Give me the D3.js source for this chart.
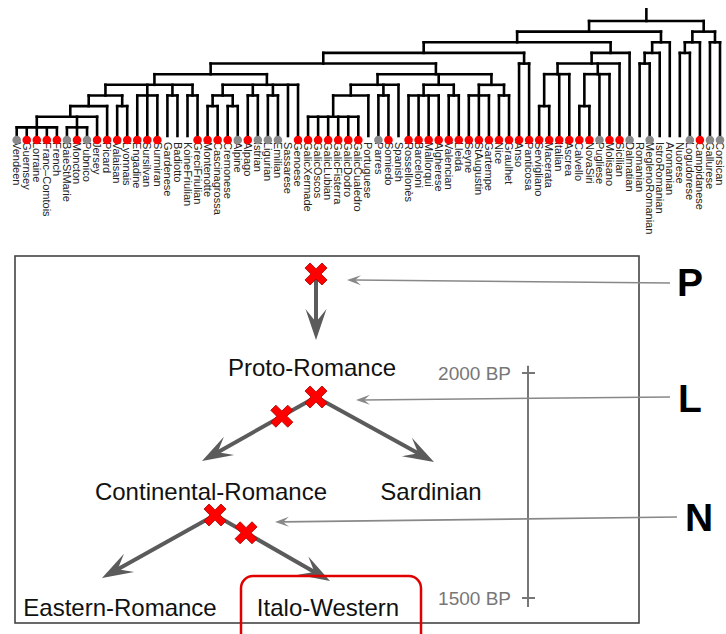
<!DOCTYPE html>
<html lang="en">
<head>
<meta charset="UTF-8">
<script src="https://cdn.jsdelivr.net/npm/d3@7"></script>
<style>
  body { margin: 0; background: #fff; }
  svg { display: block; }
  .branch { stroke: #000; stroke-width: 2.6px; fill: none; stroke-linecap: square; }
  .leaf-label { font: 11px "Liberation Sans", Arial, sans-serif; fill: #222; }
  .stage { font: 24px "Liberation Sans", Arial, sans-serif; fill: #111; text-anchor: middle; }
  .pointer { font: bold 39px "Liberation Sans", Arial, sans-serif; fill: #000; }
  .bp { font: 19px "Liberation Sans", Arial, sans-serif; fill: #777; text-anchor: end; }
</style>
</head>
<body>
<script>
const width = 726, height = 634;

/* Dendrogram: [level, ...children], a leaf is just its name */
const romanceTree =
[0,
  [1,
    [2,
      [3,
        [4,
          [5,
            [6,
              [7,
                [8,
                  [9,
                    [10, "Vendeen", "Guernsey", "Lorraine", "Franc\u2013Comtois", "French"],
                    [10, "BaieStMarie", "Moncton", "Pubnico"],
                    "Jersey"],
                  "Picard"],
                [8, "Valaisan", "Lyonnais"]],
              [7, "Engadine", "Sursilvan", "Surmiran"],
              [7, "Gardenese", "Badiotto"],
              [7, "KoineFriulian", "GreciFriulian"]],
            [6,
              [7, [8, "Montenotte", "Cascinagrossa"], [8, "Cremonese", "Alpine"]],
              [7, "Alpago", "Istrian"],
              [7, "Ligurian", "Emilian"],
              "Sassarese", "Genoese"]],
          [5,
            [6,
              [7, [9, "GalicXermade", "GalicOscos", "GalicLubian", "GalicFisterra", "GalicDodro", "GalicCualedro"], "Portuguese"],
              [7, "Parres", "Somiedo"],
              "Spanish"],
            [6,
              [7, "Rossellon\u00e8s", "Barceloni", "Mallorqui", "Algherese"],
              [7, "Valencian", "Lleida"]],
            [6,
              [7, "Seyne", "StAugustin", "Gartempe"],
              [7, "Nice", "Graulhet"]]]],
        [4, "Anso", "Panticosa"]],
      [3,
        [4,
          [5, [8, "Servigliano", "Macerata"], "Italian", "Ascrea"],
          [5, [8, "Calvello", "NovaSiri"], "Pugliese", "Molisano"],
          "Sicilian"],
        "Dalmatian"]],
    [2, [3, [4, "Romanian", "MeglenoRomanian"], "IstroRomanian"], "Aromanian"]],
  [1,
    [2, [3, "Nuorese", "Logudorese"], "Campidanese"],
    [2, "Gallurese", "Corsican"]]];

const leafLevel = 11;
const grayLeaves = ["Vendeen", "BaieStMarie", "Pubnico", "Alpine", "Istrian", "Ligurian", "Emilian",
  "Parres", "Pugliese", "Dalmatian", "MeglenoRomanian", "Logudorese", "Gallurese", "Corsican"];
const unmarkedLeaves = ["Gardenese", "Badiotto", "KoineFriulian", "Sassarese", "Portuguese", "Spanish",
  "Romanian", "IstroRomanian", "Aromanian", "Nuorese"];

/* Schematic */
const stages = ["Proto-Romance", "Continental-Romance", "Sardinian", "Eastern-Romance", "Italo-Western"];
const splits = [
  ["Proto-Romance", "Continental-Romance"],
  ["Proto-Romance", "Sardinian"],
  ["Continental-Romance", "Eastern-Romance"],
  ["Continental-Romance", "Italo-Western"]
];
const pointers = ["P", "L", "N"];
const timeTicks = [2000, 1500];
const highlighted = "Italo-Western";

// layout of the schematic (positions only)
const splitAt = { P: [316, 274], L: [316, 397], N: [215, 515] };
const stageParent = { "Proto-Romance": "P", "Continental-Romance": "L", "Sardinian": "L",
                      "Eastern-Romance": "N", "Italo-Western": "N" };
const stageOf = { L: "Proto-Romance", N: "Continental-Romance" };
const arrowTip = { "Proto-Romance": [316, 340], "Continental-Romance": [202, 461], "Sardinian": [434, 462],
                   "Eastern-Romance": [102, 578], "Italo-Western": [330, 581] };
const labelAt = { "Proto-Romance": [312, 376], "Continental-Romance": [211, 500], "Sardinian": [431, 500],
                  "Eastern-Romance": [120, 616], "Italo-Western": [328, 616] };
const extraCross = { "Continental-Romance": 0.3, "Italo-Western": 0.27 };
const pointerRow = { P: [670, 283, 347, 280, 677, 296], L: [670, 397, 356, 400, 678, 412], N: [677, 517, 275, 522, 685, 531] };

const svg = d3.select("body").append("svg")
    .attr("width", width)
    .attr("height", height);

/* ---------- dendrogram ---------- */
const root = d3.hierarchy(romanceTree, d => Array.isArray(d) ? d.slice(1) : null);
const nLeaves = root.leaves().length;
d3.cluster().size([nLeaves, 1]).separation(() => 1)(root);

const xTree = d3.scaleLinear().domain([0.5, nLeaves - 0.5]).range([16.7, 720]);
const yLevel = d3.scaleLinear().domain([0, leafLevel]).range([21, 138]);
const level = d => Array.isArray(d.data) ? d.data[0] : leafLevel;

const gTree = svg.append("g");

// leaf labels
gTree.selectAll(".leaf-label")
  .data(root.leaves())
  .join("text")
    .attr("class", "leaf-label")
    .attr("transform", d => `translate(${xTree(d.x)},142) rotate(90)`)
    .attr("dy", "0.35em")
    .text(d => d.data);

// verticals
gTree.selectAll(".vert")
  .data(root.descendants().filter(d => d.parent))
  .join("line")
    .attr("class", "branch")
    .attr("x1", d => xTree(d.x)).attr("x2", d => xTree(d.x))
    .attr("y1", d => yLevel(level(d.parent)))
    .attr("y2", d => d.children ? yLevel(level(d)) : yLevel(leafLevel) - 2);

// horizontals
gTree.selectAll(".horiz")
  .data(root.descendants().filter(d => d.children))
  .join("line")
    .attr("class", "branch")
    .attr("x1", d => xTree(d3.min(d.children, c => c.x)))
    .attr("x2", d => xTree(d3.max(d.children, c => c.x)))
    .attr("y1", d => yLevel(level(d))).attr("y2", d => yLevel(level(d)));

// root stub
gTree.append("line")
    .attr("class", "branch")
    .attr("x1", xTree(root.x)).attr("x2", xTree(root.x))
    .attr("y1", yLevel(-1.1)).attr("y2", yLevel(0));

// leaf dots
gTree.selectAll(".dot")
  .data(root.leaves().filter(d => !unmarkedLeaves.includes(d.data)))
  .join("circle")
    .attr("cx", d => xTree(d.x))
    .attr("cy", yLevel(leafLevel) + 2)
    .attr("r", 4.3)
    .attr("fill", d => grayLeaves.includes(d.data) ? "#8a8a8a" : "#ff0000");

/* ---------- schematic ---------- */
const gS = svg.append("g");

gS.append("rect")
    .attr("x", 15).attr("y", 256).attr("width", 624).attr("height", 367)
    .attr("fill", "none").attr("stroke", "#444").attr("stroke-width", 1.6);

// time axis
const yTime = d3.scaleLinear().domain([2000, 1500]).range([373, 598]);
gS.append("line")
    .attr("x1", 528).attr("x2", 528)
    .attr("y1", yTime(2016)).attr("y2", yTime(1480))
    .attr("stroke", "#777").attr("stroke-width", 2);
const tick = gS.selectAll(".tick").data(timeTicks).join("g")
    .attr("transform", d => `translate(528,${yTime(d)})`);
tick.append("line").attr("x1", -6).attr("x2", 7)
    .attr("stroke", "#777").attr("stroke-width", 2);
tick.append("text").attr("class", "bp")
    .attr("x", -17).attr("dy", "0.35em")
    .text(d => d + " BP");

// arrow helper
function arrow(g, x1, y1, x2, y2, o) {
  const a = Math.atan2(y2 - y1, x2 - x1);
  const back = o.len * 0.55;
  g.append("line")
      .attr("x1", x1).attr("y1", y1)
      .attr("x2", x2 - back * Math.cos(a)).attr("y2", y2 - back * Math.sin(a))
      .attr("stroke", o.color).attr("stroke-width", o.sw);
  g.append("path")
      .attr("d", `M0,0L${-o.len},${-o.half}L${-o.len * 0.58},0L${-o.len},${o.half}Z`)
      .attr("fill", o.color)
      .attr("transform", `translate(${x2},${y2}) rotate(${a * 180 / Math.PI})`);
}

// P / L / N pointers
pointers.forEach(p => {
  const r = pointerRow[p];
  arrow(gS, r[0], r[1], r[2], r[3], { color: "#888", sw: 1.6, len: 14, half: 5 });
  gS.append("text").attr("class", "pointer").attr("x", r[4]).attr("y", r[5]).text(p);
});

const thick = { color: "#5b5b5b", sw: 4, len: 31, half: 10.5 };
stages.forEach(s => {
  const [x1, y1] = splitAt[stageParent[s]];
  const [x2, y2] = arrowTip[s];
  arrow(gS, x1, y1, x2, y2, thick);
});

// crosses
function cross(x, y) {
  const a = 3.6, b = 12;
  const pts = [[a,-b],[a,-a],[b,-a],[b,a],[a,a],[a,b],[-a,b],[-a,a],[-b,a],[-b,-a],[-a,-a],[-a,-b]];
  gS.append("path")
      .attr("d", "M" + pts.join("L") + "Z")
      .attr("transform", `translate(${x},${y}) rotate(45)`)
      .attr("fill", "#ff0000").attr("stroke", "#b00000").attr("stroke-width", 0.8);
}
Object.keys(splitAt).forEach(k => cross(splitAt[k][0], splitAt[k][1]));
Object.keys(extraCross).forEach(s => {
  const [x1, y1] = splitAt[stageParent[s]];
  const [x2, y2] = arrowTip[s];
  const t = extraCross[s];
  cross(x1 + t * (x2 - x1), y1 + t * (y2 - y1));
});

// stage labels
gS.selectAll(".stage").data(stages).join("text")
    .attr("class", "stage")
    .attr("x", d => labelAt[d][0]).attr("y", d => labelAt[d][1])
    .text(d => d);

// highlight box
gS.append("rect")
    .attr("x", 241).attr("y", 576).attr("width", 180).attr("height", 72).attr("rx", 12)
    .attr("fill", "none").attr("stroke", "#e00000").attr("stroke-width", 2.5);
</script>
</body>
</html>
